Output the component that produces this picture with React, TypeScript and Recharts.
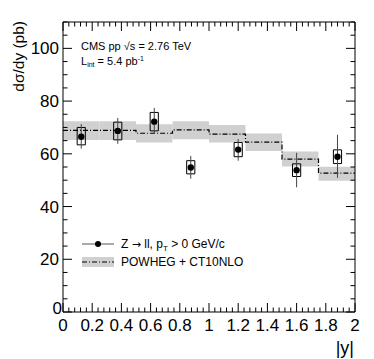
import React from "react";
import {
  ComposedChart,
  XAxis,
  YAxis,
  Line,
  Scatter,
  ErrorBar,
  ReferenceArea,
} from "recharts";

// measured Z -> ll cross section per |y| bin
const pointRapidity = [0.125, 0.375, 0.625, 0.875, 1.2, 1.6, 1.88];
const xsec = [66.5, 68.7, 72.2, 54.8, 61.6, 53.8, 58.9];
const statLow = [62.0, 63.8, 67.5, 50.6, 57.4, 47.3, 50.9];
const statHigh = [71.3, 73.6, 77.4, 59.2, 65.6, 60.4, 67.2];
const sysLow = [63.4, 65.3, 68.7, 52.4, 58.9, 51.4, 56.3];
const sysHigh = [70.0, 72.0, 75.7, 57.4, 64.3, 56.2, 61.5];

// POWHEG + CT10NLO prediction
const binEdges = [0, 0.25, 0.5, 0.75, 1.0, 1.25, 1.5, 1.75, 2.0];
const theory = [68.9, 68.9, 67.8, 69.1, 67.5, 64.4, 58.0, 52.7];
const theoryLow = [65.2, 65.2, 64.3, 65.5, 64.3, 61.1, 55.2, 49.8];
const theoryHigh = [72.4, 72.4, 71.2, 72.4, 70.9, 67.7, 60.9, 55.1];

const xMajor = [0, 0.2, 0.4, 0.6, 0.8, 1, 1.2, 1.4, 1.6, 1.8, 2];
const yMajor = [0, 20, 40, 60, 80, 100];

const FONT = "'Liberation Sans', Arial, sans-serif";
const BAND = "#d0d0d0";
const BOX_HALF = 0.028;

function subdivide(major: number[], n: number, end: number) {
  const out: number[] = [];
  for (let i = 0; i < major.length; i++) {
    const step = (i + 1 < major.length ? major[i + 1] : major[i] + (major[1] - major[0])) - major[i];
    for (let k = 0; k < n; k++) {
      const v = +(major[i] + (step * k) / n).toFixed(4);
      if (v <= end + 1e-9) out.push(v);
    }
  }
  return out;
}

const xTicks = subdivide(xMajor, 5, 2);
const yTicks = subdivide(yMajor, 4, 110);

const isMajorX = (v: number) => xMajor.some((m) => Math.abs(m - v) < 1e-6);
const isMajorY = (v: number) => yMajor.some((m) => Math.abs(m - v) < 1e-6);

const points = pointRapidity.map((x, i) => ({
  x,
  y: xsec[i],
  err: [xsec[i] - statLow[i], statHigh[i] - xsec[i]],
}));

const theoryLine = binEdges.map((x, i) => ({
  x,
  t: theory[Math.min(i, theory.length - 1)],
}));

function XTick(props: any) {
  const { x, y, payload, side } = props;
  const major = isMajorX(payload.value);
  const len = major ? 9 : 4.5;
  const v = payload.value;
  const label = Number.isInteger(v) ? String(v) : v.toFixed(1);
  return (
    <g>
      <line
        x1={x}
        x2={x}
        y1={y}
        y2={side === "top" ? y + len : y - len}
        stroke="#000"
      />
      {side !== "top" && major ? (
        <text x={x} y={y + 19} textAnchor="middle" fontSize={17} fill="#000" fontFamily={FONT}>
          {label}
        </text>
      ) : null}
    </g>
  );
}

function YTick(props: any) {
  const { x, y, payload, side } = props;
  const major = isMajorY(payload.value);
  const len = major ? 9 : 4.5;
  return (
    <g>
      <line
        x1={x}
        x2={side === "right" ? x - len : x + len}
        y1={y}
        y2={y}
        stroke="#000"
      />
      {side !== "right" && major ? (
        <text
          x={x - (payload.value === 0 ? 1 : 4)}
          y={y + 6 - (payload.value === 0 ? 4 : 0)}
          textAnchor="end"
          fontSize={17}
          fill="#000"
          fontFamily={FONT}
        >
          {payload.value}
        </text>
      ) : null}
    </g>
  );
}

function Dot(props: any) {
  return <circle cx={props.cx} cy={props.cy} r={3.2} fill="#000" />;
}

export default function App() {
  return (
    <div style={{ position: "absolute", left: 0, top: 0, background: "#fff", fontFamily: FONT }}>
      <ComposedChart
        width={374}
        height={359}
        margin={{ top: 21, right: 18, left: 0, bottom: 0 }}
      >
        <XAxis
          dataKey="x"
          type="number"
          domain={[0, 2]}
          allowDataOverflow
          ticks={xTicks}
          interval={0}
          tickSize={0}
          tickMargin={0}
          tickLine={false}
          tick={<XTick side="bottom" />}
          axisLine={{ stroke: "#000" }}
          height={47}
        />
        <XAxis
          xAxisId="top"
          dataKey="x"
          orientation="top"
          type="number"
          domain={[0, 2]}
          allowDataOverflow
          ticks={xTicks}
          interval={0}
          tickSize={0}
          tickMargin={0}
          tickLine={false}
          tick={<XTick side="top" />}
          axisLine={{ stroke: "#000" }}
          height={1}
        />
        <YAxis
          type="number"
          domain={[0, 110]}
          allowDataOverflow
          ticks={yTicks}
          interval={0}
          tickSize={0}
          tickMargin={0}
          tickLine={false}
          tick={<YTick side="left" />}
          axisLine={{ stroke: "#000" }}
          width={63}
        />
        <YAxis
          yAxisId="right"
          orientation="right"
          type="number"
          domain={[0, 110]}
          allowDataOverflow
          ticks={yTicks}
          interval={0}
          tickSize={0}
          tickMargin={0}
          tickLine={false}
          tick={<YTick side="right" />}
          axisLine={{ stroke: "#000" }}
          width={1}
        />

        {theory.map((_, i) => (
          <ReferenceArea
            key={"band" + i}
            x1={binEdges[i]}
            x2={binEdges[i + 1]}
            y1={theoryLow[i]}
            y2={theoryHigh[i]}
            fill={BAND}
            fillOpacity={1}
            stroke="none"
          />
        ))}

        {/* invisible copy so the top/right frame axes are used */}
        <Line
          data={theoryLine}
          dataKey="t"
          xAxisId="top"
          yAxisId="right"
          stroke="none"
          dot={false}
          activeDot={false}
          isAnimationActive={false}
        />

        <Line
          data={theoryLine}
          dataKey="t"
          type="stepAfter"
          stroke="#000"
          strokeWidth={1.2}
          strokeDasharray="5 2 1 2"
          dot={false}
          activeDot={false}
          isAnimationActive={false}
        />

        {pointRapidity.map((x, i) => (
          <ReferenceArea
            key={"sys" + i}
            x1={x - BOX_HALF}
            x2={x + BOX_HALF}
            y1={sysLow[i]}
            y2={sysHigh[i]}
            fill="none"
            fillOpacity={0}
            stroke="#000"
            strokeWidth={1}
          />
        ))}

        <Scatter data={points} dataKey="y" shape={<Dot />} isAnimationActive={false}>
          <ErrorBar dataKey="err" direction="y" width={0} stroke="#444" strokeWidth={1} />
        </Scatter>

        {/* ROOT-style labels */}
        <text
          transform="rotate(-90)"
          x={-21}
          y={24}
          textAnchor="end"
          fontSize={15.5}
          fontFamily={FONT}
          fill="#000"
        >
          dσ/dy (pb)
        </text>
        <text x={354} y={354} textAnchor="end" fontSize={18} fontFamily={FONT} fill="#000">
          |y|
        </text>

        <text x={81} y={50} fontSize={11} fontFamily={FONT} fill="#000">
          CMS pp √s = 2.76 TeV
        </text>
        <text x={81} y={65} fontSize={11} fontFamily={FONT} fill="#000">
          L
          <tspan fontSize={7} dy={2}>int</tspan>
          <tspan dy={-2}> = 5.4 pb</tspan>
          <tspan fontSize={7} dy={-4}>-1</tspan>
        </text>

        {/* legend */}
        <line x1={82} x2={114} y1={244} y2={244} stroke="#555" />
        <circle cx={98} cy={244} r={3} fill="#000" />
        <text x={121} y={248} fontSize={12} fontFamily={FONT} fill="#000">
          Z <tspan fontFamily="'DejaVu Sans', sans-serif" fontSize={11}>→</tspan> ll, p
          <tspan fontSize={8} dy={3}>T</tspan>
          <tspan dy={-3}> &gt; 0 GeV/c</tspan>
        </text>
        <rect x={82} y={257} width={32} height={10} fill={BAND} />
        <line x1={82} x2={114} y1={262} y2={262} stroke="#000" strokeWidth={1.2} strokeDasharray="5 2 1 2" />
        <text x={121} y={266} fontSize={12} fontFamily={FONT} fill="#000">
          POWHEG + CT10NLO
        </text>
      </ComposedChart>
    </div>
  );
}
